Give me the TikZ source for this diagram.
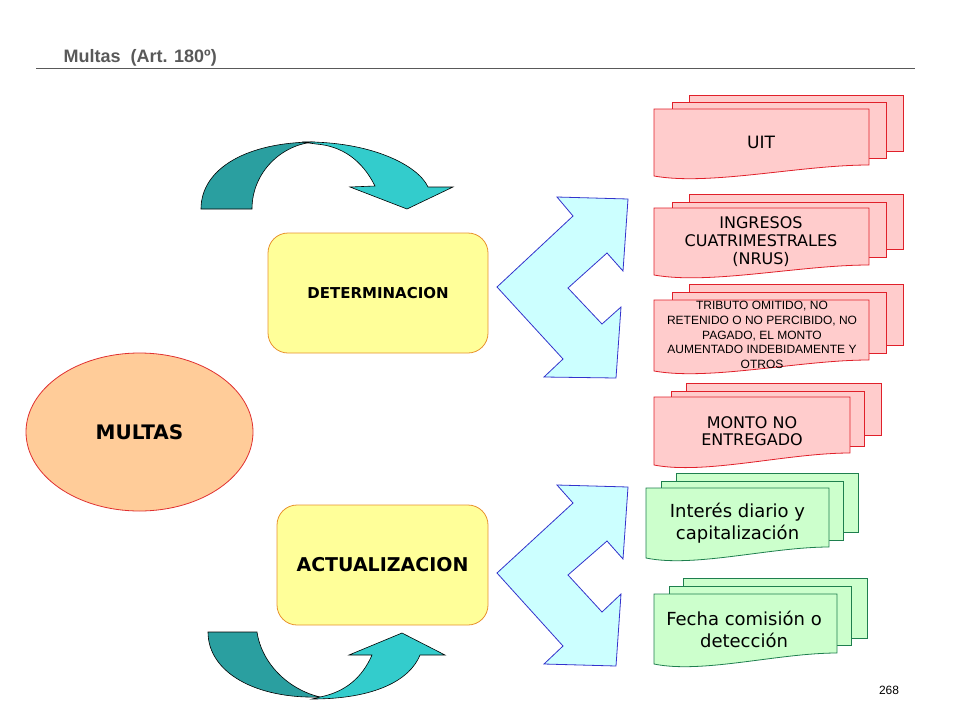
\documentclass[tikz,border=0pt]{standalone}
\usepackage{fontspec}
\setmainfont{DejaVu Sans}
\newfontfamily\arialfont{Liberation Sans}
\usepackage{tikz}
\usetikzlibrary{shapes.geometric}

\definecolor{titlegray}{HTML}{595959}
\definecolor{boxfill}{HTML}{FFFF99}
\definecolor{boxline}{HTML}{E8922E}
\definecolor{multafill}{HTML}{FFCC99}
\definecolor{multaline}{HTML}{E03030}
\definecolor{pinkfill}{HTML}{FFCCCC}
\definecolor{pinkline}{HTML}{E0202A}
\definecolor{greenfill}{HTML}{CCFFCC}
\definecolor{greenline}{HTML}{1E7F4E}
\definecolor{bracefill}{HTML}{CCFFFF}
\definecolor{braceline}{HTML}{3333CC}
\definecolor{tealdark}{HTML}{2A9FA0}
\definecolor{teallight}{HTML}{33CCCC}

\begin{document}
\begin{tikzpicture}[x=1pt,y=-1pt,
  stepbox/.style={draw=boxline,fill=boxfill,rounded corners=20pt,line width=.8pt,
    font=\bfseries},
  multa/.style={ellipse,draw=multaline,fill=multafill,line width=.8pt,
    minimum width=227pt,minimum height=158pt,font=\bfseries\fontsize{20}{24}\selectfont},
  pinksheet/.style={draw=pinkline,fill=pinkfill,line width=.8pt},
  greensheet/.style={draw=greenline,fill=greenfill,line width=.8pt},
  brace/.style={draw=braceline,fill=bracefill,line width=.8pt,line join=miter},
  turn/.style={draw=black,line width=.6pt},
  doctext/.style={align=center,inner sep=0pt}]
  \useasboundingbox (0,0) rectangle (960,720);

  % heading
  \node[anchor=base west,text=titlegray,font={\arialfont\bfseries\fontsize{18}{20}\selectfont}]
    (titulo) at (60,62) {Multas\ \ (Art. 180º)};
  \draw[titlegray,line width=.8pt] (36,68) -- (915,68);
  \node[font={\arialfont\fontsize{12}{14}\selectfont}] (pagina) at (889,690) {268};

  % curved arrows
  \fill[tealdark,turn] (201,209) .. controls (201,168) and (248,142) .. (315,142)
    .. controls (282,144) and (252,172) .. (252,209) -- cycle;
  \fill[teallight,turn] (302,142) .. controls (370,141) and (418,165) .. (428,187)
    -- (453,187) -- (407,209) -- (350,187) -- (375,186)
    .. controls (362,160) and (342,146) .. (316,144) -- cycle;
  \fill[tealdark,turn] (208,632) -- (257,632) .. controls (262,665) and (290,690) .. (320,697)
    .. controls (255,699) and (208,672) .. (208,632) -- cycle;
  \fill[teallight,turn] (312,699) .. controls (375,699) and (410,680) .. (420,655)
    -- (445,655) -- (402,633) -- (349,655) -- (372,655)
    .. controls (362,678) and (345,692) .. (320,697) -- cycle;

  % main nodes
  \node[multa] (multas) at (139.5,432) {MULTAS};
  \node[stepbox,minimum width=220pt,minimum height=120pt,font={\bfseries\fontsize{15}{18}\selectfont}]
    (determinacion) at (378,293) {DETERMINACION};
  \node[stepbox,minimum width=211pt,minimum height=120pt,font={\bfseries\fontsize{19}{22}\selectfont}]
    (actualizacion) at (382.5,565) {ACTUALIZACION};

  % braces
  \draw[brace] (557,197) -- (628,199) -- (623,271) -- (607,253) -- (568,288) -- (602,324)
    -- (621,307) -- (616,378) -- (544,377) -- (563,359) -- (497,287) -- (573,216) -- cycle;
  \draw[brace] (557,485) -- (628,487) -- (623,559) -- (607,541) -- (568,575) -- (602,612)
    -- (621,594) -- (616,666) -- (544,664) -- (563,646) -- (497,573) -- (573,503) -- cycle;

  % UIT
  \draw[pinksheet] (689,95) rectangle (903,151);
  \draw[pinksheet] (672,102) rectangle (886,158);
  \draw[pinksheet] (654,109) -- (869,109) -- (869,165) .. controls (800,165) and (710,186) .. (654,176) -- cycle;
  \node[doctext,font=\fontsize{17}{18}\selectfont] (uit) at (761,142) {UIT};

  % ingresos
  \draw[pinksheet] (689,194) rectangle (903,249);
  \draw[pinksheet] (672,202) rectangle (886,257);
  \draw[pinksheet] (654,208) -- (869,208) -- (869,265) .. controls (800,265) and (710,285) .. (654,275) -- cycle;
  \node[doctext,font=\fontsize{16}{18}\selectfont] (ingresos) at (761,241.5)
    {INGRESOS\\CUATRIMESTRALES\\(NRUS)};

  % tributo
  \draw[pinksheet] (689,284) rectangle (903,345);
  \draw[pinksheet] (672,292) rectangle (886,353);
  \draw[pinksheet] (654,300) -- (869,300) -- (869,360) .. controls (800,360) and (710,381) .. (654,371) -- cycle;
  \node[doctext,font={\arialfont\fontsize{12}{14.6}\selectfont}] (tributo) at (762,335)
    {TRIBUTO OMITIDO, NO\\RETENIDO O NO PERCIBIDO, NO\\PAGADO, EL MONTO\\AUMENTADO INDEBIDAMENTE Y\\OTROS};

  % monto
  \draw[pinksheet] (686,383) rectangle (881,435);
  \draw[pinksheet] (671,391) rectangle (864,446);
  \draw[pinksheet] (654,397) -- (850,397) -- (850,453) .. controls (787,453) and (705,475) .. (654,465) -- cycle;
  \node[doctext,font=\fontsize{16}{17}\selectfont] (monto) at (752,431) {MONTO NO\\ENTREGADO};

  % interes
  \draw[greensheet] (676,473) rectangle (858,532);
  \draw[greensheet] (661,481) rectangle (843,540);
  \draw[greensheet] (646,488) -- (829,488) -- (829,547) .. controls (770,547) and (694,568) .. (646,558) -- cycle;
  \node[doctext,font=\fontsize{18}{22}\selectfont] (interes) at (737.5,523) {Interés diario y\\capitalización};

  % fecha
  \draw[greensheet] (683,578) rectangle (867,638);
  \draw[greensheet] (669,586) rectangle (851,645);
  \draw[greensheet] (654,594) -- (837,594) -- (837,653) .. controls (778,653) and (702,674) .. (654,664) -- cycle;
  \node[doctext,font=\fontsize{18}{22}\selectfont] (fecha) at (744,629) {Fecha comisión o\\detección};
\end{tikzpicture}
\end{document}
